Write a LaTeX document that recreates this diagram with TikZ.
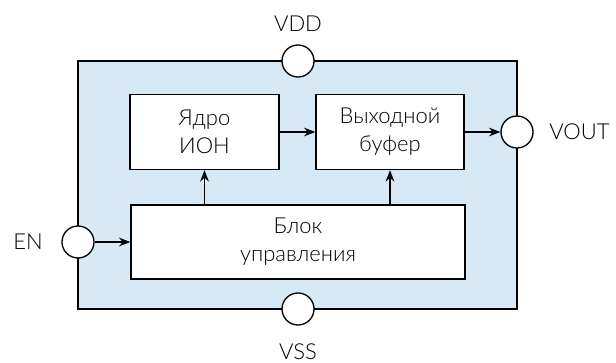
\documentclass[tikz,border=0pt]{standalone}
\usepackage{fontspec}
\setmainfont{Lato}[UprightFont=* Light]
\usetikzlibrary{arrows.meta,positioning}
\definecolor{chipblue}{RGB}{214,233,245}

\begin{document}
\begin{tikzpicture}[x=0.75pt, y=-0.75pt,
  font=\fontsize{16.5}{21}\selectfont,
  block/.style={draw, fill=white, line width=1pt, align=center, inner sep=0pt},
  pin/.style={draw, circle, fill=white, minimum size=24pt, inner sep=0pt, line width=1pt},
  sig/.style={-{Stealth[length=8.5pt, width=6.5pt]}, line width=1pt}]
  \useasboundingbox (0,0) rectangle (616,363);

  % chip body
  \draw[line width=1pt, fill=chipblue] (78,61) rectangle (517,309);

  % inner blocks
  \node[block, minimum width=111.75pt, minimum height=56.25pt] (core) at (204.5,132) {Ядро\\ИОН};
  \node[block, minimum width=111pt, minimum height=56.25pt] (buffer) at (390,132) {Выходной\\буфер};
  \node[block, minimum width=250.5pt, minimum height=55.5pt] (ctrl) at (298,242) {Блок\\управления};

  % pins
  \node[pin] (vdd) at (298,61) {};
  \node[pin] (vss) at (298,309) {};
  \node[pin] (en) at (78,242) {};
  \node[pin] (vout) at (517,132) {};

  \node (vddlabel) at (298,24) {VDD};
  \node (vsslabel) at (298,352) {VSS};
  \node (enlabel) at (28,242) {EN};
  \node[anchor=west, inner sep=0pt] (voutlabel) at (549,132) {VOUT};

  % signals
  \draw[sig] (en) -- (ctrl);
  \draw[sig] (core) -- (buffer);
  \draw[sig] (buffer) -- (vout);
  \draw[sig] (core.south |- ctrl.north) -- (core.south);
  \draw[sig] (buffer.south |- ctrl.north) -- (buffer.south);
\end{tikzpicture}
\end{document}
